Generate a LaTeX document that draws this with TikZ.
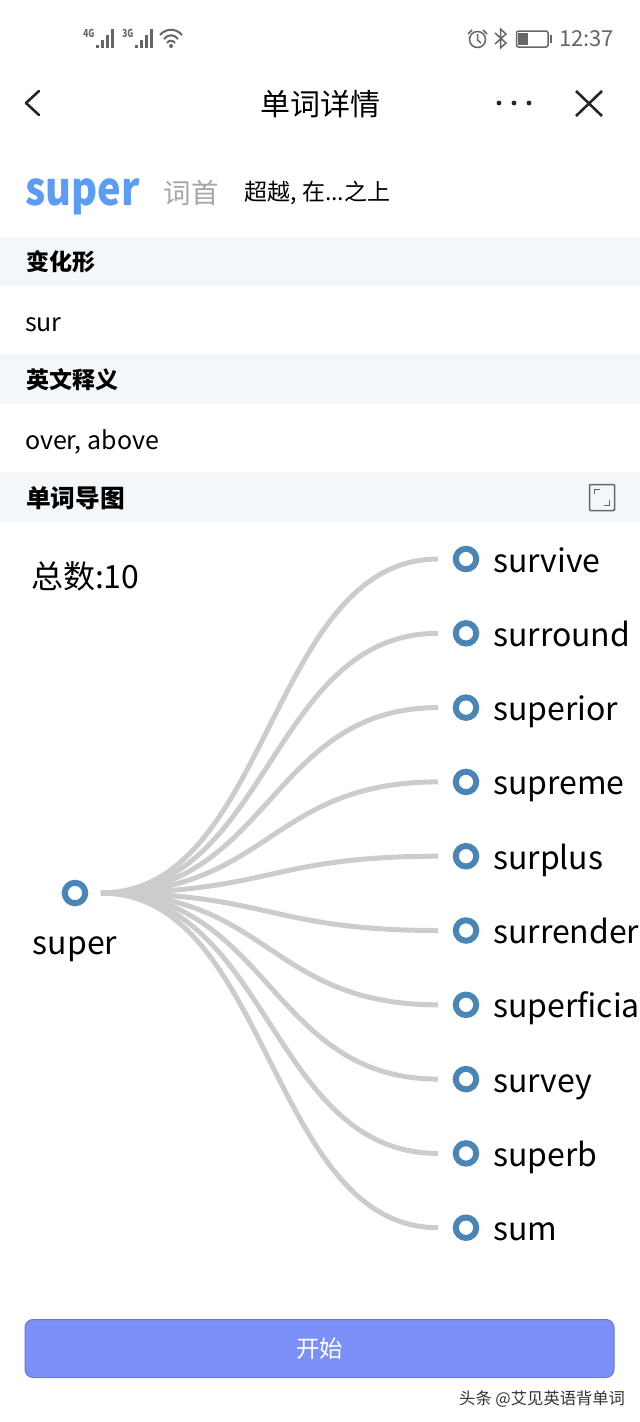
\documentclass[tikz,border=0pt]{standalone}
\usepackage{fontspec}
\setmainfont{Noto Sans CJK SC}
\usepackage{tikz}
\usetikzlibrary{positioning}

\definecolor{headblue}{HTML}{5B9CF5}
\definecolor{bandgray}{HTML}{F4F7FA}
\definecolor{linkgray}{HTML}{CCCCCC}
\definecolor{ringblue}{HTML}{4A86B5}
\definecolor{startblue}{HTML}{7B8FF8}
\definecolor{statusgray}{HTML}{666666}

\tikzset{
  plaintext/.style={inner sep=0pt,outer sep=0pt,text=black},
  bandlabel/.style={plaintext,anchor=west,font=\fontsize{23}{28}\selectfont\bfseries},
  bodylabel/.style={plaintext,anchor=west,font=\fontsize{25}{30}\selectfont},
  worddot/.style={circle,draw=ringblue,line width=6pt,minimum size=20.5pt,inner sep=0pt,outer sep=17.75pt},
  wordtext/.style={plaintext,anchor=west,font=\fontsize{32}{38}\selectfont,text height=30pt,text depth=4pt},
  wordlink/.style={draw=linkgray,line width=5pt,to path={.. controls +(169,0) and +(-169,0) .. (\tikztotarget)}},
  statusicon/.style={draw=statusgray,line width=1.5pt},
  signalbar/.style={draw=statusgray,line width=3pt},
  nettext/.style={plaintext,text=statusgray,font=\fontsize{11}{12}\selectfont\bfseries},
  navicon/.style={draw=black!85,line width=2.6pt}
}

\begin{document}
\begin{tikzpicture}[x=1pt,y=-1pt]
  \useasboundingbox[fill=white] (0,0) rectangle (640,1422);

  % bands
  \fill[bandgray] (0,237) rectangle (640,286);
  \fill[bandgray] (0,354) rectangle (640,404);
  \fill[bandgray] (0,472) rectangle (640,522);

  % status bar
  \node[nettext,xscale=.75,transform shape] (netfour) at (89,33) {4G};
  \node[nettext,xscale=.75,transform shape] (netthree) at (128,33) {3G};
  \draw[signalbar] (97,48) -- (97,45) (102,48) -- (102,40) (107,48) -- (107,35) (112.5,48) -- (112.5,29);
  \draw[signalbar] (136,48) -- (136,45) (141,48) -- (141,40) (146,48) -- (146,35) (151.5,48) -- (151.5,29);
  \draw[statusicon,line width=2pt] (160,35) .. controls (166,28) and (176,28) .. (182,35);
  \draw[statusicon,line width=2pt] (164,39) .. controls (168,34) and (174,34) .. (178,39);
  \draw[statusicon,line width=2pt] (167,43) .. controls (169,40) and (173,40) .. (175,43);
  \fill[statusgray] (171,46) circle (2);
  \draw[statusicon] (477.5,39.5) circle (8);
  \draw[statusicon] (477.5,34) -- (477.5,40) -- (481,43);
  \draw[statusicon] (468,34) -- (472,30) (487,34) -- (483,30);
  \draw[statusicon] (495,33) -- (506,43) -- (500.5,48) -- (500.5,29) -- (506,34) -- (495,44);
  \draw[statusicon,rounded corners=2pt] (516.5,31) rectangle (548,47);
  \fill[statusgray] (518,33) rectangle (528,45);
  \fill[statusgray] (550,35) rectangle (552,43);
  \node[plaintext,text=statusgray,anchor=west,font=\fontsize{22}{26}\selectfont] (clock) at (559,39) {12:37};

  % title bar
  \draw[navicon,line cap=round,line join=round] (39,91) -- (26,103) -- (39,115);
  \node[plaintext,font=\fontsize{30}{36}\selectfont] (title) at (320,104) {单词详情};
  \fill[black!85] (499,103) circle (2.4) (514,103) circle (2.4) (529,103) circle (2.4);
  \draw[navicon] (576,91) -- (602,116) (602,91) -- (576,116);

  % word head
  \node[plaintext,anchor=west,text=headblue,font=\fontsize{46}{54}\selectfont\bfseries,xscale=.864,transform shape] (headword) at (25,197) {super};
  \node[plaintext,text=black!35,font=\fontsize{27.5}{32}\selectfont,right=24pt of headword.east,yshift=4pt] (rootkind) {词首};
  \node[plaintext,font=\fontsize{23}{26}\selectfont,right=26pt of rootkind.east] (rootmeaning) {超越, 在...之上};

  % info rows
  \node[bandlabel] (formtitle) at (26,262) {变化形};
  \node[bodylabel] (formtext) at (25,325) {sur};
  \node[bandlabel] (meantitle) at (26,380) {英文释义};
  \node[bodylabel] (meantext) at (25,442) {over, above};
  \node[bandlabel,font=\fontsize{24.7}{28}\selectfont\bfseries] (maptitle) at (26,498) {单词导图};
  \node[plaintext,anchor=west,font=\fontsize{32}{38}\selectfont] (totalcount) at (31,576) {总数:10};

  % expand icon
  \draw[draw=black!60,line width=1.5pt,rounded corners=1pt] (589.5,484.5) rectangle (614.5,510.5);
  \draw[draw=black!60,line width=1pt] (594.5,494) -- (594.5,489.5) -- (600,489.5) (609.5,500) -- (609.5,505) -- (604,505);

  % word map
  \node[worddot,outer sep=15.75pt] (rootdot) at (75,893) {};
  \node[plaintext,font=\fontsize{32}{38}\selectfont] (rootword) at (75,949) {super};
  \node[worddot] (survivedot) at (466,559) {};
  \node[worddot,below=18.3pt of survivedot] (surrounddot) {};
  \node[worddot,below=18.3pt of surrounddot] (superiordot) {};
  \node[worddot,below=18.3pt of superiordot] (supremedot) {};
  \node[worddot,below=18.3pt of supremedot] (surplusdot) {};
  \node[worddot,below=18.3pt of surplusdot] (surrenderdot) {};
  \node[worddot,below=18.3pt of surrenderdot] (superficialdot) {};
  \node[worddot,below=18.3pt of superficialdot] (surveydot) {};
  \node[worddot,below=18.3pt of surveydot] (superbdot) {};
  \node[worddot,below=18.3pt of superbdot] (sumdot) {};
  \node[wordtext,right=-0.8pt of survivedot] (survive) {survive};
  \node[wordtext,right=-0.8pt of surrounddot] (surround) {surround};
  \node[wordtext,right=-0.8pt of superiordot] (superior) {superior};
  \node[wordtext,right=-0.8pt of supremedot] (supreme) {supreme};
  \node[wordtext,right=-0.8pt of surplusdot] (surplus) {surplus};
  \node[wordtext,right=-0.8pt of surrenderdot] (surrender) {surrender};
  \node[wordtext,right=-0.8pt of superficialdot] (superficial) {superficia};
  \node[wordtext,right=-0.8pt of surveydot] (survey) {survey};
  \node[wordtext,right=-0.8pt of superbdot] (superb) {superb};
  \node[wordtext,right=-0.8pt of sumdot] (sum) {sum};
  \draw[wordlink] (rootdot.east) to (survivedot.west);
  \draw[wordlink] (rootdot.east) to (surrounddot.west);
  \draw[wordlink] (rootdot.east) to (superiordot.west);
  \draw[wordlink] (rootdot.east) to (supremedot.west);
  \draw[wordlink] (rootdot.east) to (surplusdot.west);
  \draw[wordlink] (rootdot.east) to (surrenderdot.west);
  \draw[wordlink] (rootdot.east) to (superficialdot.west);
  \draw[wordlink] (rootdot.east) to (surveydot.west);
  \draw[wordlink] (rootdot.east) to (superbdot.west);
  \draw[wordlink] (rootdot.east) to (sumdot.west);

  % start button
  \node[draw=startblue!85!black,fill=startblue,line width=1pt,rounded corners=8pt,minimum width=589pt,minimum height=58pt,inner sep=0pt,text=white,font=\fontsize{23.5}{28}\selectfont] (startbutton) at (319.5,1348.5) {开始};
  \node[plaintext,anchor=east,text=black!80,font=\fontsize{16.3}{20}\selectfont] (watermark) at (625,1399) {头条 @艾见英语背单词};
\end{tikzpicture}
\end{document}
